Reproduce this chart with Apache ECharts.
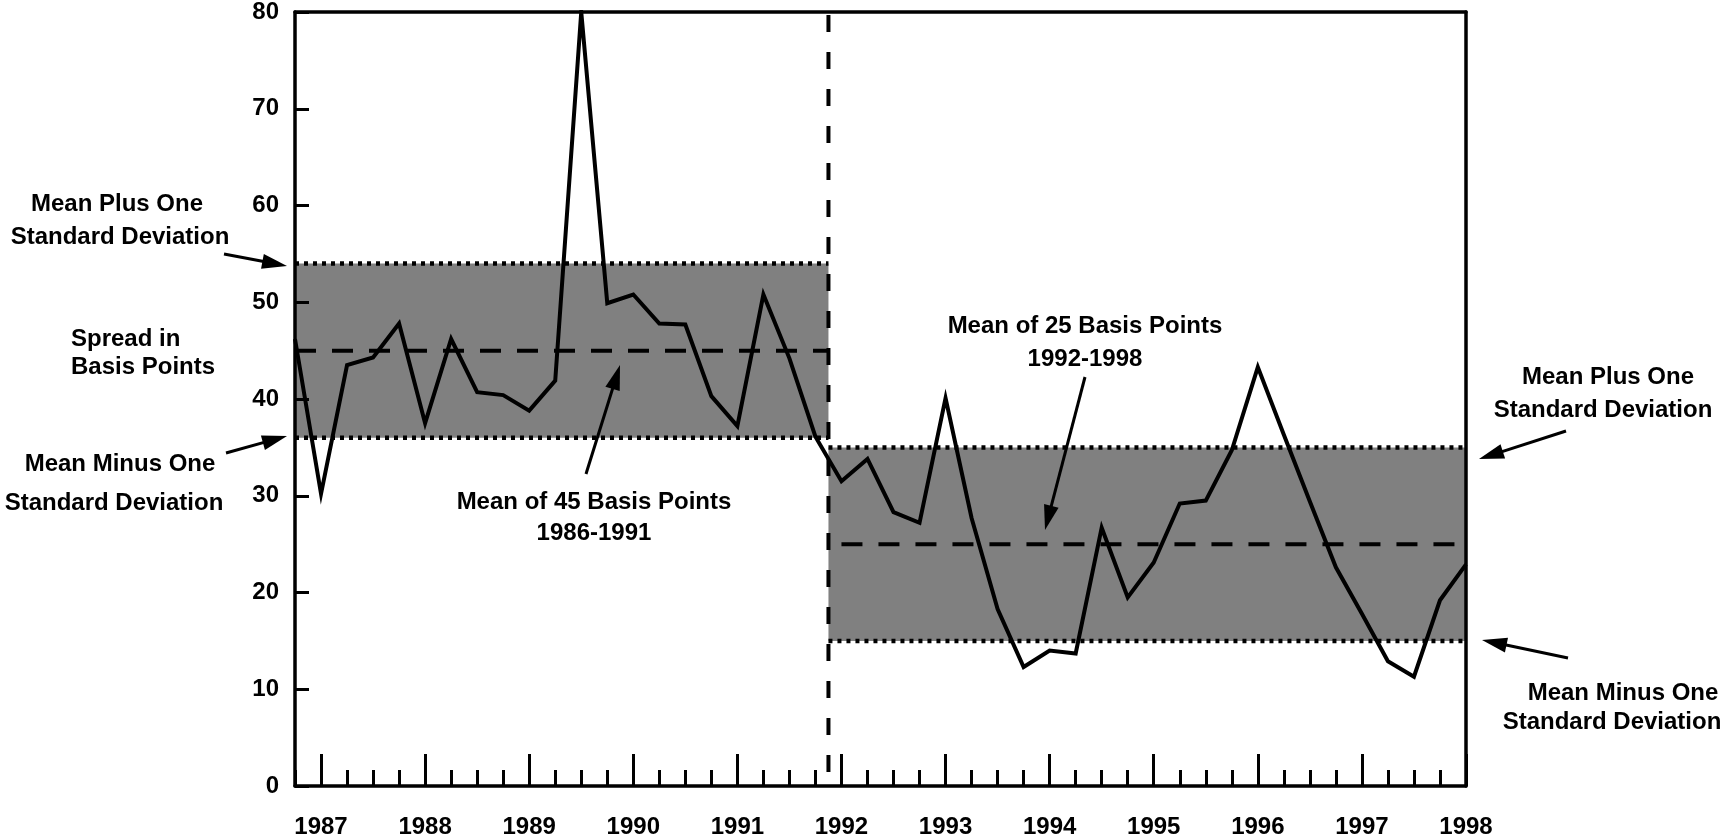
<!DOCTYPE html>
<html>
<head>
<meta charset="utf-8">
<script src="https://cdn.jsdelivr.net/npm/echarts@6/dist/echarts.min.js"></script>
<style>
html,body{margin:0;padding:0;background:#fff;}
#chart{width:1725px;height:840px;}
</style>
</head>
<body>
<div id="chart"></div>
<script>
// ---------- data ----------
const quarters = [1986.75,
  1987, 1987.25, 1987.5, 1987.75,
  1988, 1988.25, 1988.5, 1988.75,
  1989, 1989.25, 1989.5, 1989.75,
  1990, 1990.25, 1990.5, 1990.75,
  1991, 1991.25, 1991.5, 1991.75,
  1992, 1992.25, 1992.5, 1992.75,
  1993, 1993.25, 1993.5, 1993.75,
  1994, 1994.25, 1994.5, 1994.75,
  1995, 1995.25, 1995.5, 1995.75,
  1996, 1996.25, 1996.5, 1996.75,
  1997, 1997.25, 1997.5, 1997.75,
  1998];
const spread = [46.2,
  30.2, 43.5, 44.3, 47.8,
  37.5, 46.2, 40.7, 40.4,
  38.8, 41.9, 80.0, 49.9,
  50.8, 47.8, 47.7, 40.3,
  37.2, 50.8, 44.2, 36.1,
  31.5, 33.8, 28.3, 27.2,
  40.1, 27.7, 18.3, 12.3,
  14.0, 13.7, 26.7, 19.5,
  23.1, 29.2, 29.5, 34.7,
  43.3, 36.3, 29.4, 22.6,
  17.8, 12.9, 11.3, 19.2,
  22.9];
const yearTicks = [1987, 1988, 1989, 1990, 1991, 1992, 1993, 1994, 1995, 1996, 1997, 1998];
const periodStart = [1986.75, 1991.875];
const periodEnd = [1991.875, 1998];
const periodMean = [45, 25];
const periodSD = [9, 10];
const breakYear = 1991.875;
const yTicks = [0, 10, 20, 30, 40, 50, 60, 70, 80];

// ---------- build ----------
const FONT = "'Liberation Sans', Arial, Helvetica, sans-serif";
const lineData = quarters.map((q, i) => [q, spread[i]]);
const minorTicks = quarters.filter(q => yearTicks.indexOf(q) < 0);

const bandAreas = periodStart.map((s, i) => [
  { xAxis: s, yAxis: periodMean[i] - periodSD[i] },
  { xAxis: periodEnd[i], yAxis: periodMean[i] + periodSD[i] }
]);

const series = [];
series.push({
  type: 'line', data: [], z: 1, silent: true,
  markArea: { silent: true, itemStyle: { color: '#808080' }, data: bandAreas }
});
periodStart.forEach((s, i) => {
  const up = periodMean[i] + periodSD[i], lo = periodMean[i] - periodSD[i];
  [up, lo].forEach(v => {
    series.push({
      type: 'line', z: 3, silent: true, showSymbol: false, symbol: 'none',
      data: [[s, v], [periodEnd[i], v]],
      lineStyle: { color: '#000', width: 4.5, type: [4, 5], cap: 'butt' }
    });
  });
  series.push({
    type: 'line', z: 3, silent: true, showSymbol: false, symbol: 'none',
    data: [[s, periodMean[i]], [periodEnd[i], periodMean[i]]],
    lineStyle: { color: '#000', width: 4, type: [21, 16], dashOffset: i === 1 ? 24 : 0 }
  });
});
series.push({
  type: 'line', z: 4, silent: true, showSymbol: false, symbol: 'none',
  data: [[breakYear, yTicks[yTicks.length - 1]], [breakYear, yTicks[0]]],
  lineStyle: { color: '#000', width: 4, type: [17, 20], dashOffset: -3 }
});
series.push({
  type: 'line', z: 10, showSymbol: false, symbol: 'none',
  data: lineData,
  lineStyle: { color: '#000', width: 4, join: 'miter', miterLimit: 20 }
});

const labelStyle = { color: '#000', fontSize: 24, fontWeight: 'bold', fontFamily: FONT };

function arrow(tail, tip) {
  const dx = tip[0] - tail[0], dy = tip[1] - tail[1];
  const len = Math.sqrt(dx * dx + dy * dy);
  const ux = dx / len, uy = dy / len, nx = -uy, ny = ux;
  const L = 25, W = 7.5;
  const bx = tip[0] - ux * L, by = tip[1] - uy * L;
  return [
    { type: 'line', z: 50, shape: { x1: tail[0], y1: tail[1], x2: bx + ux * 4, y2: by + uy * 4 },
      style: { stroke: '#000', lineWidth: 3 } },
    { type: 'polygon', z: 50, shape: { points: [tip, [bx + nx * W, by + ny * W], [bx - nx * W, by - ny * W]] },
      style: { fill: '#000' } }
  ];
}
function txt(x, y, s, align) {
  return { type: 'text', z: 50, x: x, y: y,
    style: { text: s, fill: '#000', font: 'bold 24px ' + FONT, align: align || 'center', verticalAlign: 'middle' } };
}

const graphics = [
  txt(117, 204, 'Mean Plus One'),
  txt(120, 237, 'Standard Deviation'),
  txt(71, 339, 'Spread in', 'left'),
  txt(71, 367, 'Basis Points', 'left'),
  txt(120, 464, 'Mean Minus One'),
  txt(114, 503, 'Standard Deviation'),
  txt(594, 502, 'Mean of 45 Basis Points'),
  txt(594, 533, '1986-1991'),
  txt(1085, 326, 'Mean of 25 Basis Points'),
  txt(1085, 359, '1992-1998'),
  txt(1608, 377, 'Mean Plus One'),
  txt(1603, 410, 'Standard Deviation'),
  txt(1623, 693, 'Mean Minus One'),
  txt(1612, 722, 'Standard Deviation')
].concat(
  arrow([224, 254], [287, 266]),
  arrow([226, 453], [287, 436]),
  arrow([586, 474], [620, 365]),
  arrow([1085, 377], [1045, 530]),
  arrow([1566, 431], [1479, 459]),
  arrow([1568, 658], [1482, 640])
);

const option = {
  animation: false,
  backgroundColor: '#fff',
  grid: { left: 295, right: 259, top: 7, bottom: 54, containLabel: false },
  xAxis: [
    { type: 'value', min: quarters[0], max: quarters[quarters.length - 1], position: 'bottom', z: 20,
      axisLine: { show: true, onZero: false, lineStyle: { color: '#000', width: 3.5 } },
      axisTick: { show: true, inside: true, length: 32, customValues: yearTicks, lineStyle: { color: '#000', width: 3 } },
      axisLabel: Object.assign({ show: true, margin: 29, customValues: yearTicks, formatter: v => String(v) }, labelStyle),
      splitLine: { show: false } },
    { type: 'value', min: quarters[0], max: quarters[quarters.length - 1], position: 'bottom', z: 20,
      axisLine: { show: false },
      axisTick: { show: true, inside: true, length: 16, customValues: minorTicks, lineStyle: { color: '#000', width: 3 } },
      axisLabel: { show: false }, splitLine: { show: false } },
    { type: 'value', min: quarters[0], max: quarters[quarters.length - 1], position: 'top', z: 20,
      axisLine: { show: true, onZero: false, lineStyle: { color: '#000', width: 3.5 } },
      axisTick: { show: false }, axisLabel: { show: false }, splitLine: { show: false } }
  ],
  yAxis: [
    { type: 'value', min: yTicks[0], max: yTicks[yTicks.length - 1], interval: 10, position: 'left', z: 20,
      axisLine: { show: true, onZero: false, lineStyle: { color: '#000', width: 3.5 } },
      axisTick: { show: true, inside: true, length: 14, lineStyle: { color: '#000', width: 3 } },
      axisLabel: Object.assign({ show: true, margin: 16 }, labelStyle),
      splitLine: { show: false } },
    { type: 'value', min: yTicks[0], max: yTicks[yTicks.length - 1], interval: 10, position: 'right', z: 20,
      axisLine: { show: true, onZero: false, lineStyle: { color: '#000', width: 3.5 } },
      axisTick: { show: false }, axisLabel: { show: false }, splitLine: { show: false } }
  ],
  series: series,
  graphic: graphics
};

const chart = echarts.init(document.getElementById('chart'), null, { renderer: 'canvas' });
chart.setOption(option);
</script>
</body>
</html>
